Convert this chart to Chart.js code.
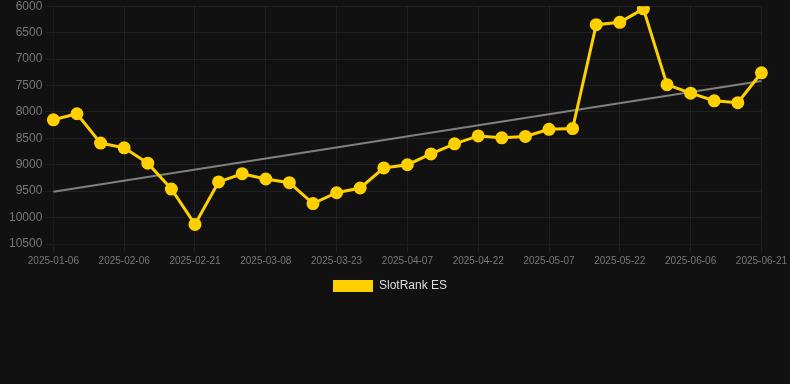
<!DOCTYPE html>
<html>
<head>
<meta charset="utf-8">
<script src="https://cdn.jsdelivr.net/npm/chart.js@4/dist/chart.umd.min.js"></script>
<style>
html,body{margin:0;padding:0;background:#111111;overflow:hidden;}
#wrap{position:relative;width:790px;height:306px;margin-top:-4px;}
</style>
</head>
<body>
<div id="wrap"><canvas id="c"></canvas></div>
<script>
const dates = [
  "2025-01-06","2025-01-16","2025-01-26","2025-02-06","2025-02-11","2025-02-16",
  "2025-02-21","2025-02-26","2025-03-03","2025-03-08","2025-03-13","2025-03-18",
  "2025-03-23","2025-03-28","2025-04-02","2025-04-07","2025-04-12","2025-04-17",
  "2025-04-22","2025-04-27","2025-05-02","2025-05-07","2025-05-12","2025-05-17",
  "2025-05-22","2025-05-27","2025-06-01","2025-06-06","2025-06-11","2025-06-16",
  "2025-06-21"
];
const rankES = [
  8150, 8035, 8590, 8680, 8970, 9460, 10130, 9325, 9170, 9270,
  9340, 9735, 9530, 9440, 9060, 9000, 8795, 8605, 8455, 8490,
  8465, 8330, 8315, 6350, 6305, 6050, 7485, 7645, 7790, 7825,
  7260
];
const trendStart = 9510;
const trendEnd = 7415;
const trend = dates.map((d, i) => i === 0 ? trendStart : (i === dates.length - 1 ? trendEnd : null));
const seriesName = "SlotRank ES";

Chart.defaults.font.family = "'Liberation Sans', Arial, Helvetica, sans-serif";

const legendShift = {
  id: 'legendShift',
  afterLayout(chart) {
    if (chart.legend) { chart.legend.left -= 6; chart.legend.right -= 6; }
  }
};

new Chart(document.getElementById('c'), {
  type: 'line',
  data: {
    labels: dates,
    datasets: [
      {
        label: seriesName,
        data: rankES,
        borderColor: '#ffd000',
        backgroundColor: '#ffd000',
        borderWidth: 3,
        pointRadius: 5,
        pointHoverRadius: 5,
        pointBackgroundColor: '#ffd000',
        pointBorderColor: '#ffd000',
        tension: 0,
        order: 1
      },
      {
        label: 'trend',
        data: trend,
        spanGaps: true,
        borderColor: '#808080',
        borderWidth: 2,
        pointRadius: 0,
        tension: 0,
        order: 2
      }
    ]
  },
  plugins: [legendShift],
  options: {
    responsive: true,
    maintainAspectRatio: false,
    animation: false,
    layout: { padding: { left: 6, right: 4, top: 0, bottom: 0 } },
    plugins: {
      legend: {
        position: 'bottom',
        labels: {
          color: '#dddddd',
          font: { size: 12 },
          boxWidth: 40,
          filter: (item) => item.text !== 'trend',
          generateLabels: (chart) => {
            const items = Chart.defaults.plugins.legend.labels.generateLabels(chart);
            items.forEach(it => { it.lineWidth = 0; });
            return items;
          }
        }
      },
      tooltip: { enabled: false }
    },
    scales: {
      x: {
        grid: { color: 'rgba(255,255,255,0.06)' },
        ticks: {
          color: '#777777',
          font: { size: 10 },
          autoSkip: false,
          maxRotation: 0,
          callback: function(v, i) { return i % 3 === 0 ? dates[i] : null; }
        }
      },
      y: {
        reverse: true,
        min: 6000,
        max: 10500,
        grid: { color: 'rgba(255,255,255,0.06)' },
        ticks: {
          color: '#777777',
          font: { size: 12 },
          stepSize: 500,
          callback: (v) => String(v)
        }
      }
    }
  }
});
</script>
</body>
</html>
